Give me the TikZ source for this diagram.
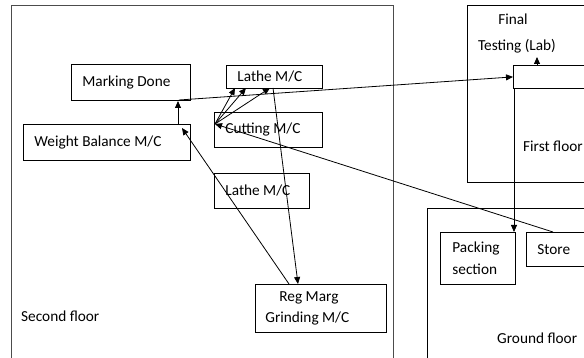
\documentclass[tikz,border=0pt]{standalone}
\usepackage{fontspec}
\setmainfont{Carlito}
\usetikzlibrary{arrows.meta,calc}
\newcommand{\fs}{\fontsize{15.3}{21}\selectfont}
\begin{document}
\begin{tikzpicture}[x=1pt,y=-1pt,
  box/.style={draw, line width=0.8pt, anchor=north west, inner xsep=11pt, inner ysep=0pt, align=flush left, font=\fs},
  floor/.style={draw, line width=0.9pt, anchor=north west, inner sep=0pt},
  arr/.style={line width=0.8pt, -{Triangle[length=7pt,width=6pt]}},
  lbl/.style={font=\fs, inner sep=0pt}]
\clip (0,0) rectangle (584,358);
\fill[white] (0,0) rectangle (584,358);
% floors
\node[floor, draw=black!70, minimum width=382pt, minimum height=380pt] (sf) at (11,5) {};
\node[floor, minimum width=140pt, minimum height=177pt] (ff) at (467,5) {};
\node[floor, minimum width=180pt, minimum height=170pt] (gf) at (427,208) {};
% boxes
\node[box, minimum width=119pt, minimum height=36pt, text width=97pt] (mark) at (71,64) {Marking Done};
\node[box, minimum width=167pt, minimum height=36pt, text width=145pt] (wb) at (23,124) {Weight Balance M/C};
\node[box, minimum width=96pt, minimum height=23pt, text width=74pt] (lathe1) at (226,65) {Lathe M/C};
\node[box, minimum width=108pt, minimum height=35pt, text width=86pt] (cut) at (214,112) {Cutting M/C};
\node[box, minimum width=95pt, minimum height=35pt, text width=73pt] (lathe2) at (214,173) {Lathe M/C};
\node[box, inner xsep=10pt, minimum width=131pt, minimum height=48pt, text width=111pt] (reg) at (255,284) {\hspace*{14pt}Reg Marg\\Grinding M/C};
\node[box, minimum width=100pt, minimum height=23pt] (ft) at (513,65) {};
\node[box, inner xsep=12pt, minimum width=75pt, minimum height=52pt, text width=51pt, font=\fontsize{15.3}{22}\selectfont] (pack) at (440,232) {Packing\\section};
\node[box, minimum width=80pt, minimum height=34pt, text width=58pt] (store) at (526,232) {Store};
% labels
\node[lbl, anchor=base] (lab1) at (513,25) {Final};
\node[lbl, anchor=base] (lab2) at (517,51) {Testing (Lab)};
\node[lbl, anchor=base west] (l2) at (21,322) {Second floor};
\node[lbl, anchor=base west] (l1) at (523,152) {First floor};
\node[lbl, anchor=base west] (l0) at (497,343) {Ground floor};
% connector points
\coordinate (p1) at (179,100);
\coordinate (wbtop) at (178,124);
\coordinate (p2) at (178,101);
\coordinate (regA) at (289,284);
\coordinate (p3) at (182,128);
\coordinate (cutL) at (215,124);
\coordinate (la) at (235,88);
\coordinate (lb) at (246,88);
\coordinate (lc) at (270,88);
\coordinate (ld) at (273,88);
\coordinate (regB) at (298,284);
\coordinate (storeN) at (553,232);
\coordinate (ftS) at (514,88);
\coordinate (packN) at (514,232);
\coordinate (ftN) at (537,65);
\coordinate (labB) at (537,57);
% connectors
\draw[arr] (p1) -- (ft.west);
\draw[arr] (wbtop) -- (p2);
\draw[arr] (regA) -- (p3);
\draw[arr] (cutL) -- (la);
\draw[arr] (cutL) -- (lb);
\draw[arr] (cutL) -- (lc);
\draw[arr] (storeN) -- (cutL);
\draw[arr] (ld) -- (regB);
\draw[arr] (ftS) -- (packN);
\draw[arr] (ftN) -- (labB);
\end{tikzpicture}
\end{document}
